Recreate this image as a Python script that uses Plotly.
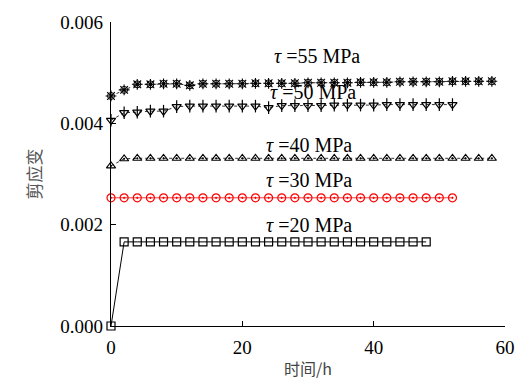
import plotly.graph_objects as go

# Shear strain vs. time under constant shear stress levels
t_20 = [0, 2, 4, 6, 8, 10, 12, 14, 16, 18, 20, 22, 24, 26, 28, 30, 32, 34, 36, 38, 40, 42, 44, 46, 48]
s_20 = [0.0, 0.00166, 0.00166, 0.00166, 0.00166, 0.00166, 0.00166, 0.00166, 0.00166, 0.00166,
        0.00166, 0.00166, 0.00166, 0.00166, 0.00166, 0.00166, 0.00166, 0.00166, 0.00166, 0.00166,
        0.00166, 0.00166, 0.00166, 0.00166, 0.00166]

t_30 = [0, 2, 4, 6, 8, 10, 12, 14, 16, 18, 20, 22, 24, 26, 28, 30, 32, 34, 36, 38, 40, 42, 44, 46, 48, 50, 52]
s_30 = [0.00253, 0.00253, 0.00253, 0.00253, 0.00253, 0.00253, 0.00253, 0.00253, 0.00253, 0.00253,
        0.00253, 0.00253, 0.00253, 0.00253, 0.00253, 0.00253, 0.00253, 0.00253, 0.00253, 0.00253,
        0.00253, 0.00253, 0.00253, 0.00253, 0.00253, 0.00253, 0.00253]

t_40 = [0, 2, 4, 6, 8, 10, 12, 14, 16, 18, 20, 22, 24, 26, 28, 30, 32, 34, 36, 38, 40, 42, 44, 46, 48,
        50, 52, 54, 56, 58]
s_40 = [0.00316, 0.00330, 0.00331, 0.00331, 0.00331, 0.00331, 0.00331, 0.00331, 0.00331, 0.00331,
        0.00331, 0.00331, 0.00331, 0.00331, 0.00331, 0.00331, 0.00331, 0.00331, 0.00331, 0.00331,
        0.00331, 0.00331, 0.00331, 0.00331, 0.00331, 0.00331, 0.00331, 0.00331, 0.00331, 0.00331]

t_50 = [0, 2, 4, 6, 8, 10, 12, 14, 16, 18, 20, 22, 24, 26, 28, 30, 32, 34, 36, 38, 40, 42, 44, 46, 48, 50, 52]
s_50 = [0.00406, 0.00421, 0.00422, 0.00424, 0.00424, 0.00433, 0.00434, 0.00434, 0.00434, 0.00434,
        0.00434, 0.00434, 0.00431, 0.00435, 0.00435, 0.00435, 0.00435, 0.00436, 0.00436, 0.00436,
        0.00436, 0.00437, 0.00437, 0.00437, 0.00437, 0.00437, 0.00437]

t_55 = [0, 2, 4, 6, 8, 10, 12, 14, 16, 18, 20, 22, 24, 26, 28, 30, 32, 34, 36, 38, 40, 42, 44, 46, 48,
        50, 52, 54, 56, 58]
s_55 = [0.00454, 0.00466, 0.00477, 0.00477, 0.00478, 0.00478, 0.00475, 0.00478, 0.00478, 0.00478,
        0.00478, 0.00479, 0.00479, 0.00479, 0.00479, 0.00480, 0.00480, 0.00480, 0.00480, 0.00481,
        0.00481, 0.00481, 0.00482, 0.00482, 0.00482, 0.00482, 0.00483, 0.00483, 0.00483, 0.00483]

labels = ["τ =55 MPa", "τ =50 MPa", "τ =40 MPa", "τ =30 MPa", "τ =20 MPa"]
label_x = [31.3, 30.7, 30.1, 30.1, 30.1]
label_y = [0.00533, 0.00462, 0.00358, 0.00289, 0.00200]

x_ticks = [0, 20, 40, 60]
y_ticks = [0.0, 0.002, 0.004, 0.006]
y_tick_text = ["0.000", "0.002", "0.004", "0.006"]

SERIF = "Liberation Serif"
CJK = "Noto Sans CJK SC"

fig = go.Figure()

def add_series(x, y, color, symbol, size, dash, lw=1.0, mlw=1.2, show_line=True):
    fig.add_trace(go.Scatter(
        x=x, y=y,
        mode="lines+markers" if show_line else "markers",
        line=dict(color=color, width=lw, dash=dash),
        marker=dict(symbol=symbol, size=size, color=color,
                    line=dict(color=color, width=mlw)),
        cliponaxis=False, showlegend=False, hoverinfo="skip",
    ))

# tau = 20 MPa: open squares, solid line
add_series(t_20, s_20, "black", "square-open", 8, "solid", lw=1.0, mlw=1.2)
# tau = 30 MPa: red circles with centre dot
add_series(t_30, s_30, "red", "circle-open-dot", 8, "solid", lw=0.8, mlw=1.2)
# tau = 40 MPa: triangles with centre dot
add_series(t_40, s_40, "black", "triangle-up-open-dot", 8, "dot", lw=0.8, mlw=1.1)
# tau = 50 MPa: inverted triangles crossed by a vertical stroke
add_series(t_50, s_50, "black", "triangle-down-open", 8, "dot", lw=0.8, mlw=1.2)
add_series(t_50, s_50, "black", "line-ns-open", 9, "solid", mlw=1.2, show_line=False)
# tau = 55 MPa: starred circles
add_series(t_55, s_55, "black", "circle-open", 7, "dot", lw=0.8, mlw=1.0)
add_series(t_55, s_55, "black", "asterisk-open", 9, "solid", mlw=1.1, show_line=False)

for txt, lx, ly in zip(labels, label_x, label_y):
    sym, rest = txt.split(" ", 1)
    fig.add_annotation(
        x=lx, y=ly, xref="x", yref="y",
        text=f"<i>{sym}</i> {rest}",
        showarrow=False, xanchor="center", yanchor="middle",
        font=dict(family=SERIF, size=20, color="black"),
    )

fig.update_xaxes(
    range=[0, 60], tickvals=x_ticks, ticktext=[str(v) for v in x_ticks],
    showline=True, linecolor="black", linewidth=1.2,
    ticks="inside", ticklen=5, tickcolor="black", tickwidth=1,
    ticklabelstandoff=4,
    showgrid=False, zeroline=False,
    tickfont=dict(family=SERIF, size=19, color="black"),
    title=dict(text="时间/h", font=dict(family=CJK, size=16, color="#444"), standoff=6),
)
fig.update_yaxes(
    range=[0, 0.006], tickvals=y_ticks, ticktext=y_tick_text,
    showline=True, linecolor="black", linewidth=1.2,
    ticks="inside", ticklen=5, tickcolor="black", tickwidth=1,
    ticklabelstandoff=3,
    showgrid=False, zeroline=False,
    tickfont=dict(family=SERIF, size=19, color="black"),
    title=dict(text="剪应变", font=dict(family=CJK, size=17, color="#555"), standoff=14),
)

fig.update_layout(
    width=527, height=387,
    margin=dict(l=111, r=14, t=12, b=55),
    paper_bgcolor="white", plot_bgcolor="white",
    font=dict(family=SERIF, color="black"),
)

fig.write_html("out.html")
